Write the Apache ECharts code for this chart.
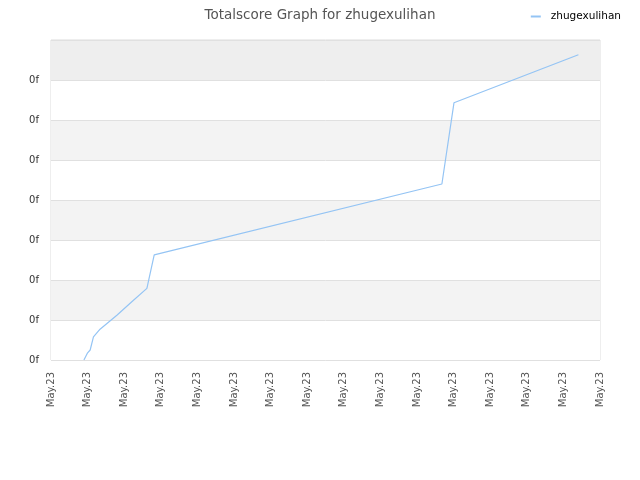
<!DOCTYPE html>
<html><head><meta charset="utf-8">
<script src="https://cdn.jsdelivr.net/npm/echarts@6/dist/echarts.min.js"></script>
<style>html,body{margin:0;padding:0;background:#fff}#c{width:640px;height:480px}</style>
</head><body><div id="c"></div>
<script>
const title = 'Totalscore Graph for zhugexulihan';
const seriesName = 'zhugexulihan';
const xTickLabels = ['May.23','May.23','May.23','May.23','May.23','May.23','May.23','May.23','May.23','May.23','May.23','May.23','May.23','May.23','May.23','May.23'];
const yTickLabels = ['0f','0f','0f','0f','0f','0f','0f','0f',''];
const xValues = [0.90, 1.00, 1.07, 1.16, 1.34, 1.80, 2.20, 2.62, 2.82, 10.68, 11.01, 14.41];
const yValues = [0.00, 0.18, 0.25, 0.58, 0.77, 1.12, 1.45, 1.79, 2.63, 4.40, 6.43, 7.63];

const chart = echarts.init(document.getElementById('c'), null, {renderer:'canvas'});
chart.setOption({
  animation:false,
  backgroundColor:'#fff',
  title:{text:title,left:'center',top:3,textStyle:{fontFamily:'DejaVu Sans',fontSize:13.5,fontWeight:'normal',color:'#555'}},
  legend:{right:14,top:6,icon:'rect',itemWidth:10,itemHeight:2,itemGap:6,
    textStyle:{fontFamily:'DejaVu Sans',fontSize:10.5,color:'#000',padding:[0,0,0,5]},data:[seriesName]},
  grid:{left:51,right:40,top:40,bottom:120,show:true,borderColor:'#ddd',borderWidth:1,containLabel:false},
  xAxis:{type:'value',min:0,max:15,interval:1,
    axisLine:{show:false},axisTick:{show:false},splitLine:{show:false},
    axisLabel:{rotate:90,margin:12,fontFamily:'DejaVu Sans',fontSize:10,color:'#555',
      formatter:(v)=>xTickLabels[Math.round(v)]||''}},
  yAxis:{type:'value',min:0,max:8,interval:1,
    axisLine:{show:false},axisTick:{show:false},
    splitLine:{show:true,lineStyle:{color:'#e0e0e0',width:1}},
    splitArea:{show:true,areaStyle:{color:['#ffffff','#f3f3f3','#ffffff','#f3f3f3','#ffffff','#f3f3f3','#ffffff','#eeeeee']}},
    axisLabel:{margin:12,fontFamily:'DejaVu Sans',fontSize:10,color:'#333',
      formatter:(v)=>yTickLabels[Math.round(v)]}},
  series:[{name:seriesName,type:'line',showSymbol:false,symbol:'none',
    lineStyle:{color:'#94c4f4',width:1.2},itemStyle:{color:'#94c4f4'},
    data:xValues.map((x,i)=>[x,yValues[i]])}]
});
</script></body></html>
